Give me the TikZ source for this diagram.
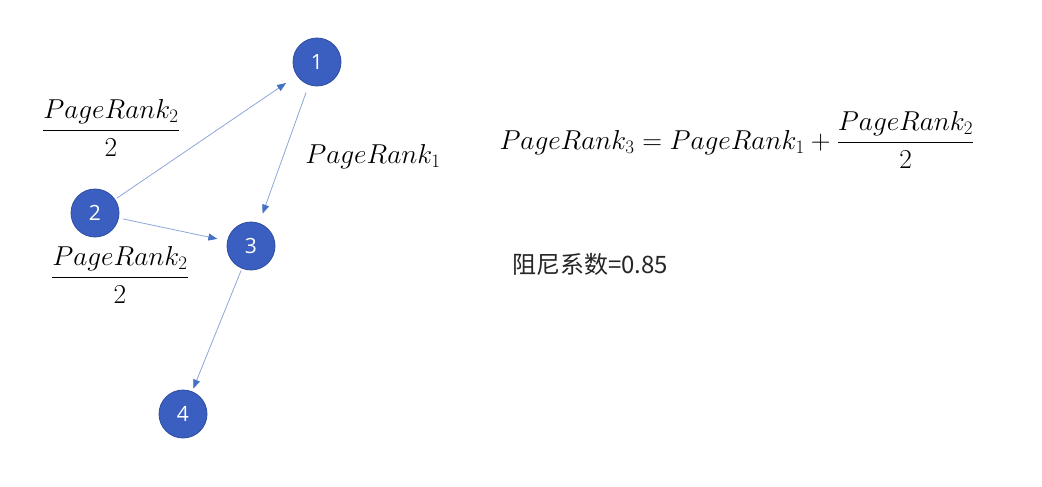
\documentclass[tikz,border=0pt]{standalone}
\usepackage{amsmath}
\usepackage{fontspec}
\newfontfamily\cjk{Noto Sans CJK SC}
\newfontfamily\numfont{Open Sans}
\usetikzlibrary{arrows.meta}
\definecolor{nodeblue}{HTML}{3A5FC0}
\definecolor{nodeedge}{HTML}{2E4D9E}
\definecolor{edgeline}{HTML}{8FA6DA}
\definecolor{tipblue}{HTML}{4472C4}
\newcommand{\bigmath}[1]{\scalebox{1.1}{\fontsize{25}{30}\selectfont$\displaystyle #1$}}
\begin{document}
\begin{tikzpicture}[x=1pt,y=-1pt,
  pnode/.style={circle,fill=nodeblue,draw=nodeedge,line width=0.8pt,minimum size=48pt,inner sep=0pt,text=white,font=\numfont\fontsize{21}{24}\selectfont},
  edge/.style={draw=edgeline,line width=0.8pt,-{Triangle[length=9pt,width=7pt,color=tipblue,fill=tipblue]}},
  mlabel/.style={inner sep=0pt}]
\useasboundingbox (0,0) rectangle (1042,487);
\fill[white] (0,0) rectangle (1042,487);
\node[pnode] (n1) at (317,62) {1};
\node[pnode] (n2) at (95,213) {2};
\node[pnode] (n3) at (251,246) {3};
\node[pnode] (n4) at (183,414) {4};
\draw[edge,shorten <=2pt,shorten >=13pt] (n2) -- (n1);
\draw[edge,shorten <=8pt,shorten >=10pt] (n1) -- (n3);
\draw[edge,shorten <=4pt,shorten >=10pt] (n2) -- (n3);
\draw[edge,shorten <=2pt,shorten >=3pt] (n3) -- (n4);
\node[mlabel] (fa) at (111,128) {\bigmath{\frac{PageRank_2}{2}}};
\node[mlabel] (fb) at (120,275) {\bigmath{\frac{PageRank_2}{2}}};
\node[mlabel] (l1) at (373,157) {\bigmath{PageRank_1}};
\node[mlabel] (eq) at (737,140) {\bigmath{PageRank_3=PageRank_1+\frac{PageRank_2}{2}}};
\node[inner sep=0pt,text=black!85,font=\cjk\fontsize{24}{28}\selectfont] (dp) at (590,264) {阻尼系数=0.85};
\end{tikzpicture}
\end{document}
